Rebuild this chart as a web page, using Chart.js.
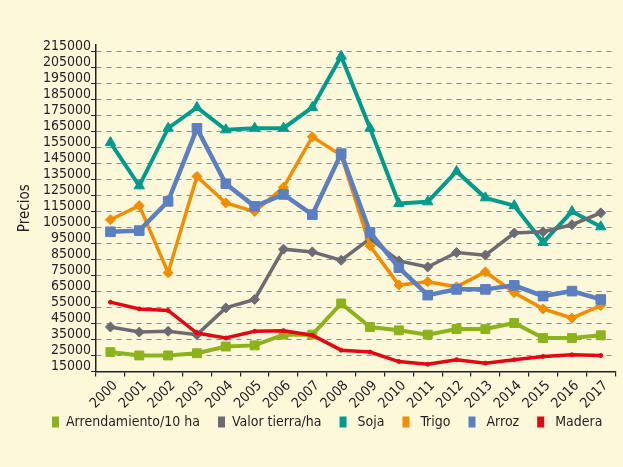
<!DOCTYPE html>
<html>
<head>
<meta charset="utf-8">
<script src="https://cdn.jsdelivr.net/npm/chart.js@4.4.1/dist/chart.umd.min.js"></script>
<style>
  html, body { margin: 0; padding: 0; background: #fdf8da; }
  #wrap { width: 623px; height: 467px; }
</style>
</head>
<body>
<div id="wrap"><canvas id="precios"></canvas></div>
<script>
// data
const years = ["2000", "2001", "2002", "2003", "2004", "2005", "2006", "2007", "2008",
  "2009", "2010", "2011", "2012", "2013", "2014", "2015", "2016", "2017"];
const yTicks = [15000, 25000, 35000, 45000, 55000, 65000, 75000, 85000, 95000, 105000,
  115000, 125000, 135000, 145000, 155000, 165000, 175000, 185000, 195000, 205000, 215000];

const arrendamiento = [27100, 25000, 25000, 26400, 30600, 31300, 38000, 38000, 57500,
  42800, 40700, 38000, 41500, 41500, 45300, 35900, 35900, 37600];
const valorTierra = [42800, 39600, 40100, 38000, 54700, 60000, 91400, 89700, 84500,
  98000, 84100, 80300, 89300, 87700, 101500, 102300, 106700, 114100];
const soja = [158000, 131000, 167000, 180000, 166000, 167000, 167000, 180000, 212000,
  167000, 120000, 121000, 140000, 123500, 118600, 95600, 114900, 105400];
const trigo = [109800, 118600, 76700, 136900, 120300, 114900, 130100, 161600, 150100,
  93500, 69000, 71100, 67900, 77200, 64200, 54100, 48400, 56200];
const arroz = [102300, 103000, 121300, 166900, 132300, 118200, 125600, 113000, 151100,
  101900, 79900, 62700, 66300, 66300, 68800, 62100, 65200, 60000];
const madera = [58300, 54100, 53100, 39000, 35900, 40100, 40500, 37600, 28300,
  27100, 21200, 19500, 22300, 20200, 22300, 24400, 25400, 25000];

const FONT = "'DejaVu Sans Condensed', 'Liberation Sans', sans-serif";
const INK = "#231f20";

function serie(label, data, color, style, radius, width, order) {
  return {
    label: label,
    data: data,
    order: order,
    borderColor: color,
    backgroundColor: color,
    pointBackgroundColor: color,
    pointBorderColor: color,
    pointStyle: style,
    pointRadius: radius,
    pointBorderWidth: 1,
    borderWidth: width,
    tension: 0
  };
}

// legend sits further left and a bit higher than Chart.js puts it
const shiftLegend = {
  id: "shiftLegend",
  afterLayout(chart) {
    chart.legend.left += 34;
    chart.legend.right += 34;
    chart.legend.top -= 16;
    chart.legend.bottom -= 16;
  }
};

new Chart(document.getElementById("precios"), {
  type: "line",
  data: {
    labels: years,
    datasets: [
      serie("Arrendamiento/10 ha", arrendamiento, "#8cb31c", "rect", 6.3, 4, 1),
      serie("Valor tierra/ha", valorTierra, "#6d6b72", "rectRot", 5, 3.5, 4),
      serie("Soja", soja, "#009b8d", "triangle", 6, 4, 5),
      serie("Trigo", trigo, "#f18d00", "rectRot", 5, 3.5, 3),
      serie("Arroz", arroz, "#5b7fc1", "rect", 6.8, 4.5, 2),
      serie("Madera", madera, "#e30613", "circle", 2, 3.5, 0)
    ]
  },
  options: {
    responsive: true,
    maintainAspectRatio: false,
    animation: false,
    layout: { padding: { left: 0, right: 3, top: 45, bottom: 12 } },
    plugins: {
      tooltip: { enabled: false },
      legend: {
        position: "bottom",
        align: "start",
        labels: {
          boxWidth: 7,
          boxHeight: 11,
          padding: 18,
          color: INK,
          font: { family: FONT, size: 14 },
          sort: function (a, b) { return a.datasetIndex - b.datasetIndex; },
          generateLabels: function (chart) {
            const items = Chart.defaults.plugins.legend.labels.generateLabels(chart);
            items.forEach(function (it) {
              it.pointStyle = "rect";
              it.lineWidth = 0;
              if (it.datasetIndex > 1) {
                it.text = " " + it.text;
              }
            });
            return items;
          }
        }
      }
    },
    scales: {
      x: {
        offset: true,
        grid: {
          offset: true,
          drawOnChartArea: false,
          tickLength: 5,
          tickColor: "#222",
          lineWidth: 1.2
        },
        border: { color: "#222", width: 1.5 },
        ticks: {
          autoSkip: false,
          maxRotation: 45,
          minRotation: 45,
          padding: 1,
          labelOffset: 5,
          color: INK,
          font: { family: FONT, size: 14 }
        }
      },
      y: {
        min: 15000,
        max: 219000,
        afterFit: function (s) { s.width = 96; },
        afterBuildTicks: function (s) {
          s.ticks = yTicks.map(function (v) { return { value: v }; });
        },
        grid: {
          color: function (c) { return c.tick && c.tick.value === 15000 ? "rgba(0,0,0,0)" : "#8a8a8a"; },
          lineWidth: 1,
          tickLength: 5,
          tickColor: "#222",
          tickBorderDash: [1, 0]
        },
        border: { color: "#222", width: 1.5, dash: [5, 5] },
        title: {
          display: true,
          text: "Precios",
          color: INK,
          padding: { top: 16, bottom: 0 },
          font: { family: FONT, size: 15 }
        },
        ticks: {
          autoSkip: false,
          padding: 0,
          labelOffset: -5,
          color: INK,
          font: { family: FONT, size: 14 },
          callback: function (v) { return String(v); }
        }
      }
    }
  },
  plugins: [shiftLegend]
});
</script>
</body>
</html>
